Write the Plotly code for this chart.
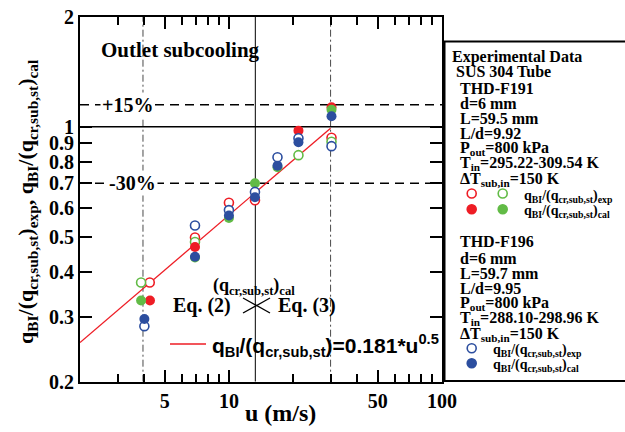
import numpy as np
import plotly.graph_objects as go

W, H = 625, 432

# ---------------- data ----------------
red_open_u = [4.25, 6.93, 10.0, 13.25, 30.3]
red_open_q = [0.374, 0.497, 0.619, 0.629, 0.933]

green_open_u = [3.87, 6.93, 21.2, 30.3]
green_open_q = [0.374, 0.483, 0.836, 0.910]

red_fill_u = [4.26, 6.93, 21.2, 30.3]
red_fill_q = [0.334, 0.468, 0.976, 1.131]

green_fill_u = [3.87, 6.93, 10.0, 13.25, 16.9, 30.3]
green_fill_q = [0.334, 0.438, 0.562, 0.700, 0.775, 1.114]

blue_open_u = [4.01, 6.93, 10.0, 13.25, 16.9, 21.2, 30.3]
blue_open_q = [0.284, 0.536, 0.591, 0.663, 0.825, 0.930, 0.885]

blue_fill_u = [4.01, 6.93, 10.0, 13.25, 16.9, 21.2, 30.3]
blue_fill_q = [0.297, 0.440, 0.571, 0.641, 0.782, 0.907, 1.069]

fit_coef = 0.181
fit_exp = 0.5
fit_u_range = [2.0, 30.0]

x_range = [2, 100]
y_range = [0.2, 2]
x_tickvals = [5, 10, 50, 100]
x_minor = [3, 4, 6, 7, 8, 9, 20, 30, 40, 60, 70, 80, 90]
y_tickvals = [0.2, 0.3, 0.4, 0.5, 0.6, 0.7, 0.8, 0.9, 1, 2]
y_ticktext = ["0.2", "0.3", "0.4", "0.5", "0.6", "0.7", "0.8", "0.9", "1", "2"]

vlines_dashdot = [3.95, 30.0]
vline_solid = 13.3
hline_solid = 1.0
hlines_dashed = [1.15, 0.7]

f191_lines = ["THD-F191", "d=6 mm", "L=59.5 mm", "L/d=9.92",
              "P<sub>out</sub>=800 kPa", "T<sub>in</sub>=295.22-309.54 K",
              "ΔT<sub>sub,in</sub>=150 K"]
f196_lines = ["THD-F196", "d=6 mm", "L=59.7 mm", "L/d=9.95",
              "P<sub>out</sub>=800 kPa", "T<sub>in</sub>=288.10-298.96 K",
              "ΔT<sub>sub,in</sub>=150 K"]
exp_label = "q<sub>BI</sub>/(q<sub>cr,sub,st</sub>)<sub>exp</sub>"
cal_label = "q<sub>BI</sub>/(q<sub>cr,sub,st</sub>)<sub>cal</sub>"

RED = "#ee1d25"
GREEN = "#62bb46"
BLUE = "#2c4e9f"
SERIF = "Liberation Serif"
SANS = "Liberation Sans"

# ---------------- geometry helpers (pixel -> paper) ----------------
L, R, T, B = 80, 442, 17, 381.7
def px(x):
    return x / W
def py(y):
    return 1 - y / H

fig = go.Figure()

# reference lines
for v in vlines_dashdot:
    fig.add_trace(go.Scatter(x=[v, v], y=y_range, mode="lines",
                             line=dict(color="#4a4a4a", width=1, dash="7px,3px,2px,3px"),
                             hoverinfo="skip", showlegend=False))
fig.add_trace(go.Scatter(x=[vline_solid, vline_solid], y=y_range, mode="lines",
                         line=dict(color="black", width=1), hoverinfo="skip", showlegend=False))
fig.add_trace(go.Scatter(x=x_range, y=[hline_solid, hline_solid], mode="lines",
                         line=dict(color="black", width=1.5), hoverinfo="skip", showlegend=False))
for h in hlines_dashed:
    fig.add_trace(go.Scatter(x=x_range, y=[h, h], mode="lines",
                             line=dict(color="black", width=1.5, dash="9px,6px"),
                             hoverinfo="skip", showlegend=False))

# fit line
fu = np.array(fit_u_range)
fig.add_trace(go.Scatter(x=fu, y=fit_coef * fu ** fit_exp, mode="lines",
                         line=dict(color=RED, width=1.3), showlegend=False))

def open_trace(u, q, c):
    return go.Scatter(x=u, y=q, mode="markers", showlegend=False,
                      marker=dict(symbol="circle", size=9, color="white",
                                  line=dict(color=c, width=1.6)))

def fill_trace(u, q, c):
    return go.Scatter(x=u, y=q, mode="markers", showlegend=False,
                      marker=dict(symbol="circle", size=10, color=c,
                                  line=dict(color=c, width=0)))

fig.add_trace(open_trace(red_open_u, red_open_q, RED))
fig.add_trace(open_trace(green_open_u, green_open_q, GREEN))
fig.add_trace(fill_trace(red_fill_u, red_fill_q, RED))
fig.add_trace(fill_trace(green_fill_u, green_fill_q, GREEN))
fig.add_trace(open_trace(blue_open_u, blue_open_q, BLUE))
fig.add_trace(fill_trace(blue_fill_u, blue_fill_q, BLUE))

tickfont = dict(family=SERIF, size=20, color="black", weight="bold")
fig.update_xaxes(type="log", range=[np.log10(x_range[0]), np.log10(x_range[1])],
                 domain=[px(L), px(R)], showgrid=False, zeroline=False,
                 showline=True, linewidth=2, linecolor="black", mirror="ticks",
                 ticks="inside", ticklen=12, tickwidth=1.5, tickcolor="black",
                 tickvals=x_tickvals, ticktext=[str(v) for v in x_tickvals],
                 tickfont=tickfont, automargin=False,
                 minor=dict(tickvals=x_minor, ticks="inside", ticklen=8,
                            tickwidth=1.5, tickcolor="black", showgrid=False))
fig.update_yaxes(type="log", range=[np.log10(y_range[0]), np.log10(y_range[1])],
                 domain=[py(B), py(T)], showgrid=False, zeroline=False,
                 showline=True, linewidth=2, linecolor="black", mirror="ticks",
                 ticks="inside", ticklen=12, tickwidth=1.5, tickcolor="black",
                 tickvals=y_tickvals, ticktext=y_ticktext, tickfont=tickfont,
                 automargin=False)

ann = []
def text(x, y, t, size, family=SERIF, bold=True, xanchor="left", **kw):
    ann.append(dict(x=px(x), y=py(y), xref="paper", yref="paper", text=t,
                    showarrow=False, xanchor=xanchor, yanchor="middle",
                    font=dict(family=family, size=size, color="black",
                              weight="bold" if bold else "normal"), **kw))

# axis titles
text(280, 413, "u (m/s)", 24, xanchor="center")
text(27, 202, "q<sub>BI</sub>/(q<sub>cr,sub,st</sub>)<sub>exp</sub>, " + cal_label, 22,
     xanchor="center", textangle=-90)

# in-plot labels
text(99, 50, "Outlet subcooling", 21)
text(127, 105, "+15%", 20, xanchor="center", bgcolor="white", borderpad=1)
text(132, 183, "-30%", 20, xanchor="center", bgcolor="white", borderpad=1)
text(211, 286, "(q<sub>cr,sub,st</sub>)<sub>cal</sub>", 18)
text(171, 305, "Eq. (2)", 20)
text(276, 305, "Eq. (3)", 20)
text(210, 345, "q<sub>BI</sub>/(q<sub>cr,sub,st</sub>)=0.181*u<sup>0.5</sup>", 21, family=SANS)

# legend box text
text(450, 57, "Experimental Data", 16)
text(454, 72, "SUS 304 Tube", 16)
ys = [88, 103, 118, 133, 148, 163, 179]
for yv, t in zip(ys, f191_lines):
    text(458, yv, t, 16)
text(522, 196, exp_label, 14)
text(522, 211, cal_label, 14)
ys2 = [241, 258, 273, 288, 303, 318, 334]
for yv, t in zip(ys2, f196_lines):
    text(458, yv, t, 16)
text(491, 350, exp_label, 14)
text(491, 365, cal_label, 14)

fig.update_layout(annotations=ann)

# shapes: legend box, fit-legend line, crossing symbol, legend markers
shapes = []
shapes.append(dict(type="rect", xref="paper", yref="paper", x0=px(444.5), x1=px(640),
                   y0=py(381), y1=py(41.5), line=dict(color="black", width=2)))
shapes.append(dict(type="line", xref="paper", yref="paper", x0=px(170), x1=px(206),
                   y0=py(344), y1=py(344), line=dict(color=RED, width=1.3)))
shapes.append(dict(type="line", xref="paper", yref="paper", x0=px(243), x1=px(270),
                   y0=py(298), y1=py(313), line=dict(color="black", width=1.3)))
shapes.append(dict(type="line", xref="paper", yref="paper", x0=px(243), x1=px(270),
                   y0=py(313), y1=py(298), line=dict(color="black", width=1.3)))

def circ(cx, cy, color, filled):
    r = 4.5
    shapes.append(dict(type="circle", xref="paper", yref="paper",
                       x0=px(cx - r), x1=px(cx + r), y0=py(cy + r), y1=py(cy - r),
                       fillcolor=color if filled else "white",
                       line=dict(color=color, width=1.6)))

circ(471.7, 193.5, RED, False)
circ(502.7, 193.5, GREEN, False)
circ(471.7, 209.3, RED, True)
circ(502.7, 209.3, GREEN, True)
circ(471.7, 348.3, BLUE, False)
circ(471.7, 363.3, BLUE, True)

fig.update_layout(shapes=shapes, width=W, height=H, autosize=False,
                  margin=dict(l=0, r=0, t=0, b=0, pad=0),
                  paper_bgcolor="white", plot_bgcolor="white",
                  showlegend=False)

fig.write_html("out.html", config={"responsive": False},
               post_script="document.body.style.margin='0';"
                           "document.body.style.overflow='hidden';"
                           "document.documentElement.style.overflow='hidden';")
